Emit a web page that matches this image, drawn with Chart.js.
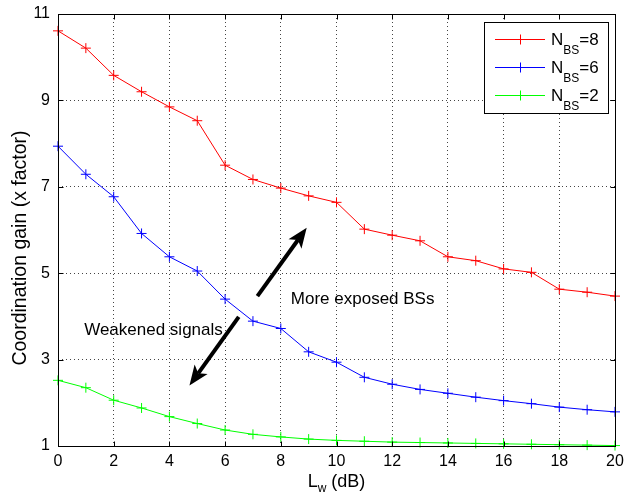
<!DOCTYPE html>
<html><head><meta charset="utf-8">
<script src="https://cdn.jsdelivr.net/npm/chart.js@4/dist/chart.umd.min.js"></script>
<style>html,body{margin:0;padding:0;background:#fff;}#wrap{width:625px;height:495px;}</style>
</head><body><div id="wrap"><canvas id="c" width="625" height="495"></canvas></div>
<script>
const lwDb = [0,1,2,3,4,5,6,7,8,9,10,11,12,13,14,15,16,17,18,19,20];
const gainN8 = [10.61,10.21,9.58,9.20,8.85,8.53,7.50,7.17,6.97,6.79,6.64,6.02,5.88,5.75,5.38,5.29,5.10,5.02,4.63,4.56,4.47];
const gainN6 = [7.94,7.29,6.77,5.92,5.38,5.05,4.40,3.89,3.72,3.18,2.94,2.59,2.43,2.31,2.22,2.13,2.05,1.98,1.90,1.84,1.79];
const gainN2 = [2.52,2.35,2.06,1.88,1.68,1.52,1.37,1.27,1.21,1.16,1.13,1.11,1.09,1.08,1.07,1.06,1.05,1.04,1.03,1.02,1.01];
const seriesBS = ['8','6','2'];
const seriesColors = ['#ff0000','#0000ff','#00ff00'];
const xTicks = [0,2,4,6,8,10,12,14,16,18,20];
const yTicks = [1,3,5,7,9,11];
const xTitle = ['L','w',' (dB)'];
const yTitle = 'Coordination gain (x factor)';
const arrowUp = {from:[7.16,4.47], to:[8.93,6.05]};
const arrowDown = {from:[6.49,3.99], to:[4.72,2.40]};
const noteMore = {text:'More exposed BSs', at:[8.36,4.28]};
const noteWeak = {text:'Weakened signals', at:[0.94,3.57]};

const FONT = '"Liberation Sans", Arial, Helvetica, sans-serif';
const series = [gainN8, gainN6, gainN2];

function mk(vals){ return lwDb.map((x,i)=>({x:x, y:vals[i]})); }

const datasets = series.map((vals,i)=>({
  label: 'N_BS=' + seriesBS[i],
  data: mk(vals),
  borderColor: seriesColors[i],
  backgroundColor: seriesColors[i],
  borderWidth: 1,
  pointStyle: 'cross',
  pointRadius: 5,
  pointBorderWidth: 1,
  tension: 0,
  clip: false
}));

function drawArrow(ctx, x1, y1, x2, y2){
  const a = Math.atan2(y2-y1, x2-x1);
  const c = Math.cos(a), s = Math.sin(a);
  const hl = 20, hw = 8, notch = 5;
  const bx = x2 - hl*c, by = y2 - hl*s;
  ctx.save();
  ctx.strokeStyle = '#000'; ctx.fillStyle = '#000';
  ctx.lineWidth = 4; ctx.lineCap = 'butt';
  ctx.beginPath(); ctx.moveTo(x1,y1); ctx.lineTo(bx + notch*c, by + notch*s); ctx.stroke();
  ctx.beginPath();
  ctx.moveTo(x2,y2);
  ctx.lineTo(bx - hw*s, by + hw*c);
  ctx.lineTo(bx + notch*c, by + notch*s);
  ctx.lineTo(bx + hw*s, by - hw*c);
  ctx.closePath(); ctx.fill();
  ctx.restore();
}

const deco = {
  id: 'deco',
  afterDraw(chart){
    const ctx = chart.ctx, xs = chart.scales.x, ys = chart.scales.y, ca = chart.chartArea;
    ctx.save();
    ctx.strokeStyle = '#000'; ctx.lineWidth = 1; ctx.setLineDash([]);
    const L = Math.round(ca.left)+0.5, R = Math.round(ca.right)+0.5, T = Math.round(ca.top)+0.5, B = Math.round(ca.bottom)+0.5;
    ctx.strokeRect(L, T, R-L, B-T);
    ctx.beginPath();
    xTicks.forEach(v=>{ const px = Math.round(xs.getPixelForValue(v))+0.5; ctx.moveTo(px,B); ctx.lineTo(px,B-5); ctx.moveTo(px,T); ctx.lineTo(px,T+5); });
    yTicks.forEach(v=>{ const py = Math.round(ys.getPixelForValue(v))+0.5; ctx.moveTo(L,py); ctx.lineTo(L+5,py); ctx.moveTo(R,py); ctx.lineTo(R-5,py); });
    ctx.stroke();
    [arrowUp, arrowDown].forEach(a=>{
      drawArrow(ctx, xs.getPixelForValue(a.from[0]), ys.getPixelForValue(a.from[1]), xs.getPixelForValue(a.to[0]), ys.getPixelForValue(a.to[1]));
    });
    ctx.fillStyle = '#000'; ctx.font = '17px ' + FONT; ctx.textAlign = 'left'; ctx.textBaseline = 'alphabetic';
    [noteMore, noteWeak].forEach(n=>{ ctx.fillText(n.text, xs.getPixelForValue(n.at[0]), ys.getPixelForValue(n.at[1])); });
    const lx = 484.5, ly = 22.5, lwid = 124, lh = 91;
    ctx.fillStyle = '#fff'; ctx.fillRect(lx, ly, lwid, lh);
    ctx.strokeStyle = '#000'; ctx.lineWidth = 1; ctx.strokeRect(lx, ly, lwid, lh);
    chart.data.datasets.forEach((d,i)=>{
      const cy = 39.5 + i*28;
      ctx.strokeStyle = d.borderColor; ctx.lineWidth = 1;
      ctx.beginPath(); ctx.moveTo(495, cy); ctx.lineTo(545, cy);
      ctx.moveTo(520.5, cy-5); ctx.lineTo(520.5, cy+5); ctx.stroke();
      ctx.fillStyle = '#000'; ctx.textAlign = 'left'; ctx.textBaseline = 'alphabetic';
      ctx.font = '17px ' + FONT;
      let x = 551; const base = cy + 5;
      ctx.fillText('N', x, base); x += ctx.measureText('N').width;
      ctx.font = '12px ' + FONT;
      ctx.fillText('BS', x, base + 9); x += ctx.measureText('BS').width;
      ctx.font = '17px ' + FONT;
      ctx.fillText('=' + seriesBS[i], x, base);
    });
    ctx.fillStyle = '#000';
    ctx.font = '18px ' + FONT;
    const w0 = ctx.measureText(xTitle[0]).width, w2 = ctx.measureText(xTitle[2]).width;
    ctx.font = '12px ' + FONT;
    const w1 = ctx.measureText(xTitle[1]).width;
    let tx = (ca.left + ca.right)/2 - (w0+w1+w2)/2;
    const tb = 487;
    ctx.font = '18px ' + FONT; ctx.fillText(xTitle[0], tx, tb); tx += w0;
    ctx.font = '12px ' + FONT; ctx.fillText(xTitle[1], tx, tb + 5); tx += w1;
    ctx.font = '18px ' + FONT; ctx.fillText(xTitle[2], tx, tb);
    ctx.translate(26, 248); ctx.rotate(-Math.PI/2);
    ctx.font = '19.5px ' + FONT; ctx.textAlign = 'center'; ctx.textBaseline = 'alphabetic';
    ctx.fillText(yTitle, 0, 0);
    ctx.restore();
  }
};

new Chart(document.getElementById('c'), {
  type: 'line',
  data: { datasets },
  options: {
    responsive: false, animation: false,
    layout: { padding: { left: 0, right: 10, top: 14, bottom: 0 } },
    plugins: { legend: { display: false }, tooltip: { enabled: false } },
    scales: {
      x: {
        type: 'linear', min: 0, max: 20,
        afterBuildTicks: s => { s.ticks = xTicks.map(v=>({value:v})); },
        afterFit: s => { s.height = 49; s.paddingLeft = 0; s.paddingRight = 0; s.paddingTop = 0; s.paddingBottom = 0; },
        ticks: { color: '#000', font: { family: FONT, size: 16 }, padding: 6, maxRotation: 0, autoSkip: false },
        grid: { color: '#444', lineWidth: 1, drawTicks: false },
        border: { display: false, dash: [1,3] }
      },
      y: {
        type: 'linear', min: 1, max: 11,
        afterBuildTicks: s => { s.ticks = yTicks.map(v=>({value:v})); },
        afterFit: s => { s.width = 58; s.paddingLeft = 0; s.paddingRight = 0; s.paddingTop = 0; s.paddingBottom = 0; },
        ticks: { color: '#000', font: { family: FONT, size: 16 }, padding: 8, autoSkip: false },
        grid: { color: '#444', lineWidth: 1, drawTicks: false },
        border: { display: false, dash: [1,3] }
      }
    }
  },
  plugins: [deco]
});
</script></body></html>
